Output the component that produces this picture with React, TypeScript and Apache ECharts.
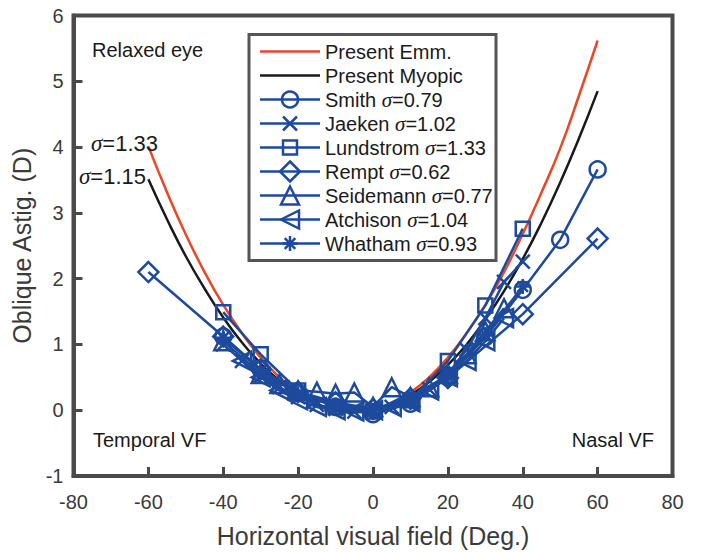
import React, { useEffect, useRef } from 'react';
import * as echarts from 'echarts';

const FONT = '"Liberation Sans", Arial, Helvetica, sans-serif';
const SERIF = '"Liberation Serif", "Times New Roman", serif';
const BLUE = '#1d4a9c';
const RED = '#ee4524';
const BLACK = '#1a1a1a';
const AXIS = '#4a4a4a';
const LABEL = '#3a3a3a';

// Present model curves (field angle in deg, oblique astigmatism in D)
const curveX = [-60, -55, -50, -45, -40, -35, -30, -25, -20, -15, -10, -5, 0, 5, 10, 15, 20, 25, 30, 35, 40, 45, 50, 55, 60];
const emmY = [4.01, 3.31, 2.67, 2.1, 1.6, 1.17, 0.8, 0.5, 0.27, 0.1, 0.0, -0.03, 0.0, 0.1, 0.27, 0.5, 0.8, 1.17, 1.6, 2.1, 2.68, 3.31, 3.98, 4.78, 5.62];
const myoY = [3.51, 2.9, 2.34, 1.85, 1.41, 1.03, 0.71, 0.45, 0.24, 0.09, 0.0, -0.03, 0.0, 0.085, 0.23, 0.43, 0.69, 1.0, 1.38, 1.81, 2.3, 2.85, 3.46, 4.13, 4.85];

// Published measurements
const smithX = [-40, -30, -20, -10, 0, 10, 20, 30, 40, 50, 60];
const smithY = [1.12, 0.62, 0.26, 0.05, -0.06, 0.1, 0.5, 1.11, 1.83, 2.59, 3.66];

const jaekenX = [-40, -35, -30, -25, -20, -15, -10, -5, 0, 5, 10, 15, 20, 25, 30, 35, 40];
const jaekenY = [1.0, 0.75, 0.52, 0.35, 0.2, 0.08, 0.02, -0.02, 0.0, 0.05, 0.15, 0.32, 0.55, 0.92, 1.4, 1.95, 2.26];

const lundX = [-40, -30, -20, -10, 0, 10, 20, 30, 40];
const lundY = [1.49, 0.85, 0.3, 0.05, -0.02, 0.15, 0.75, 1.59, 2.76];

const remptX = [-60, -40, -30, -20, -10, 0, 10, 20, 40, 60];
const remptY = [2.1, 1.12, 0.62, 0.28, 0.12, 0.02, 0.18, 0.49, 1.46, 2.61];

const seidX = [-40, -30, -25, -20, -15, -10, -5, 0, 5, 10, 15, 20, 25, 30, 35];
const seidY = [1.05, 0.55, 0.4, 0.3, 0.28, 0.25, 0.27, 0.05, 0.35, 0.2, 0.35, 0.55, 0.85, 1.2, 1.55];

const atchX = [-35, -30, -25, -20, -15, -10, -5, 0, 5, 10, 15, 20, 25, 30, 35];
const atchY = [0.75, 0.5, 0.3, 0.15, 0.05, 0.0, -0.02, 0.0, 0.05, 0.12, 0.3, 0.5, 0.75, 1.05, 1.4];

const whatX = [-40, -30, -20, -10, 0, 10, 20, 30, 40];
const whatY = [1.1, 0.6, 0.25, 0.08, 0.0, 0.12, 0.5, 1.15, 1.88];

const xTicks = { min: -80, max: 80, step: 20 };
const yTicks = { min: -1, max: 6, step: 1 };

type Kind = 'circle' | 'x' | 'square' | 'diamond' | 'triangle' | 'left' | 'star';

const legendRows: { name: string; sigma?: string; kind?: Kind; color: string }[] = [
  { name: 'Present Emm.', color: RED },
  { name: 'Present Myopic', color: BLACK },
  { name: 'Smith', sigma: '0.79', kind: 'circle', color: BLUE },
  { name: 'Jaeken', sigma: '1.02', kind: 'x', color: BLUE },
  { name: 'Lundstrom', sigma: '1.33', kind: 'square', color: BLUE },
  { name: 'Rempt', sigma: '0.62', kind: 'diamond', color: BLUE },
  { name: 'Seidemann', sigma: '0.77', kind: 'triangle', color: BLUE },
  { name: 'Atchison', sigma: '1.04', kind: 'left', color: BLUE },
  { name: 'Whatham', sigma: '0.93', kind: 'star', color: BLUE },
];

const SYMBOL: Record<Kind, { symbol: string; size: number; rotate?: number }> = {
  circle: { symbol: 'circle', size: 16 },
  x: { symbol: 'path://M0 0L10 10M10 0L0 10', size: 14 },
  square: { symbol: 'rect', size: 14 },
  diamond: { symbol: 'diamond', size: 20 },
  triangle: { symbol: 'triangle', size: 18 },
  left: { symbol: 'triangle', size: 18, rotate: 90 },
  star: { symbol: 'path://M5 0L5 10M0 5L10 5M1.5 1.5L8.5 8.5M8.5 1.5L1.5 8.5', size: 15 },
};

const pairs = (xs: number[], ys: number[]) => xs.map((x, i) => [x, ys[i]]);

function blueSeries(name: string, xs: number[], ys: number[], kind: Kind) {
  const s = SYMBOL[kind];
  return {
    name,
    type: 'line',
    data: pairs(xs, ys),
    symbol: s.symbol,
    symbolSize: s.size,
    symbolRotate: s.rotate || 0,
    lineStyle: { color: BLUE, width: 2.5 },
    itemStyle: { color: 'rgba(0,0,0,0)', borderColor: BLUE, borderWidth: 2.5 },
    z: 3,
    silent: true,
  };
}

const MK = { stroke: BLUE, lineWidth: 2.5, fill: 'none' };

function legendMarker(kind: Kind, cx: number, cy: number): any[] {
  const ln = (x1: number, y1: number, x2: number, y2: number) => ({
    type: 'line', shape: { x1, y1, x2, y2 }, style: { stroke: BLUE, lineWidth: 2.5 },
  });
  switch (kind) {
    case 'circle':
      return [{ type: 'circle', shape: { cx, cy, r: 8 }, style: MK }];
    case 'x':
      return [ln(cx - 7, cy - 7, cx + 7, cy + 7), ln(cx + 7, cy - 7, cx - 7, cy + 7)];
    case 'square':
      return [{ type: 'rect', shape: { x: cx - 7, y: cy - 7, width: 14, height: 14 }, style: MK }];
    case 'diamond':
      return [{ type: 'polygon', shape: { points: [[cx, cy - 10], [cx + 10, cy], [cx, cy + 10], [cx - 10, cy]] }, style: MK }];
    case 'triangle':
      return [{ type: 'polygon', shape: { points: [[cx, cy - 9], [cx + 9, cy + 9], [cx - 9, cy + 9]] }, style: MK }];
    case 'left':
      return [{ type: 'polygon', shape: { points: [[cx - 9, cy], [cx + 9, cy - 9], [cx + 9, cy + 9]] }, style: MK }];
    case 'star':
      return [
        ln(cx, cy - 7.5, cx, cy + 7.5),
        ln(cx - 7.5, cy, cx + 7.5, cy),
        ln(cx - 5.3, cy - 5.3, cx + 5.3, cy + 5.3),
        ln(cx + 5.3, cy - 5.3, cx - 5.3, cy + 5.3),
      ];
  }
}

const sigmaRich = (size: number) => ({
  s: { fontFamily: SERIF, fontStyle: 'italic', fontSize: size + 1, fill: BLACK },
});

function buildLegend(): any[] {
  const els: any[] = [
    {
      type: 'rect',
      shape: { x: 249, y: 34.5, width: 247, height: 226 },
      style: { fill: '#fff', stroke: '#555', lineWidth: 3 },
      z: 10,
    },
  ];
  legendRows.forEach((r, i) => {
    const cy = 51.5 + i * 24;
    els.push({
      type: 'line',
      shape: { x1: 260, y1: cy, x2: 320, y2: cy },
      style: { stroke: r.color, lineWidth: 2.5 },
      z: 11,
    });
    if (r.kind) {
      legendMarker(r.kind, 290, cy).forEach((m) => els.push({ ...m, z: 12 }));
    }
    els.push({
      type: 'text',
      x: 325,
      y: cy,
      z: 12,
      style: {
        text: r.sigma ? `${r.name} {s|σ}=${r.sigma}` : r.name,
        rich: sigmaRich(20),
        font: `20px ${FONT}`,
        fill: BLACK,
        verticalAlign: 'middle',
      },
    });
  });
  return els;
}

function note(text: string, x: number, y: number, align = 'left', size = 20) {
  return {
    type: 'text',
    x,
    y,
    z: 12,
    style: { text, rich: sigmaRich(size), font: `${size}px ${FONT}`, fill: BLACK, align, verticalAlign: 'middle' },
  };
}

export default function App() {
  const ref = useRef<HTMLDivElement>(null);

  useEffect(() => {
    if (!ref.current) return;
    const chart = echarts.init(ref.current, null, { renderer: 'svg' });
    const axisCommon = {
      type: 'value',
      nameLocation: 'middle',
      nameTextStyle: { fontFamily: FONT, fontSize: 25, color: LABEL },
      axisLine: { show: true, onZero: false, lineStyle: { color: AXIS, width: 4 } },
      axisTick: { show: true, inside: true, length: 9, lineStyle: { color: AXIS, width: 3 } },
      axisLabel: { fontFamily: FONT, fontSize: 20, color: LABEL },
      splitLine: { show: false },
    };
    chart.setOption({
      animation: false,
      backgroundColor: '#fff',
      grid: {
        left: 73.5,
        right: 28.5,
        top: 15.5,
        bottom: 70.5,
        show: true,
        borderColor: AXIS,
        borderWidth: 4,
        backgroundColor: 'transparent',
      },
      xAxis: {
        ...axisCommon,
        min: xTicks.min,
        max: xTicks.max,
        interval: xTicks.step,
        name: 'Horizontal visual field (Deg.)',
        nameGap: 47,
        axisLabel: { ...axisCommon.axisLabel, margin: 16 },
      },
      yAxis: {
        ...axisCommon,
        min: yTicks.min,
        max: yTicks.max,
        interval: yTicks.step,
        name: 'Oblique Astig. (D)',
        nameGap: 37,
        axisLabel: { ...axisCommon.axisLabel, margin: 10 },
      },
      series: [
        {
          name: 'Present Emm.',
          type: 'line',
          data: pairs(curveX, emmY),
          smooth: true,
          symbol: 'none',
          lineStyle: { color: RED, width: 2.5 },
          z: 2,
          silent: true,
        },
        {
          name: 'Present Myopic',
          type: 'line',
          data: pairs(curveX, myoY),
          smooth: true,
          symbol: 'none',
          lineStyle: { color: BLACK, width: 2.5 },
          z: 2,
          silent: true,
        },
        blueSeries('Smith', smithX, smithY, 'circle'),
        blueSeries('Jaeken', jaekenX, jaekenY, 'x'),
        blueSeries('Lundstrom', lundX, lundY, 'square'),
        blueSeries('Rempt', remptX, remptY, 'diamond'),
        blueSeries('Seidemann', seidX, seidY, 'triangle'),
        blueSeries('Atchison', atchX, atchY, 'left'),
        blueSeries('Whatham', whatX, whatY, 'star'),
      ],
      graphic: [
        ...buildLegend(),
        note('Relaxed eye', 92, 50),
        note('{s|σ}=1.33', 91, 143, 'left', 22),
        note('{s|σ}=1.15', 79, 176, 'left', 22),
        note('Temporal VF', 93, 440),
        note('Nasal VF', 654, 440, 'right'),
      ],
    });
    return () => chart.dispose();
  }, []);

  return (
    <div
      ref={ref}
      style={{ position: 'fixed', left: 0, top: 0, width: 701, height: 553, background: '#fff' }}
    />
  );
}
